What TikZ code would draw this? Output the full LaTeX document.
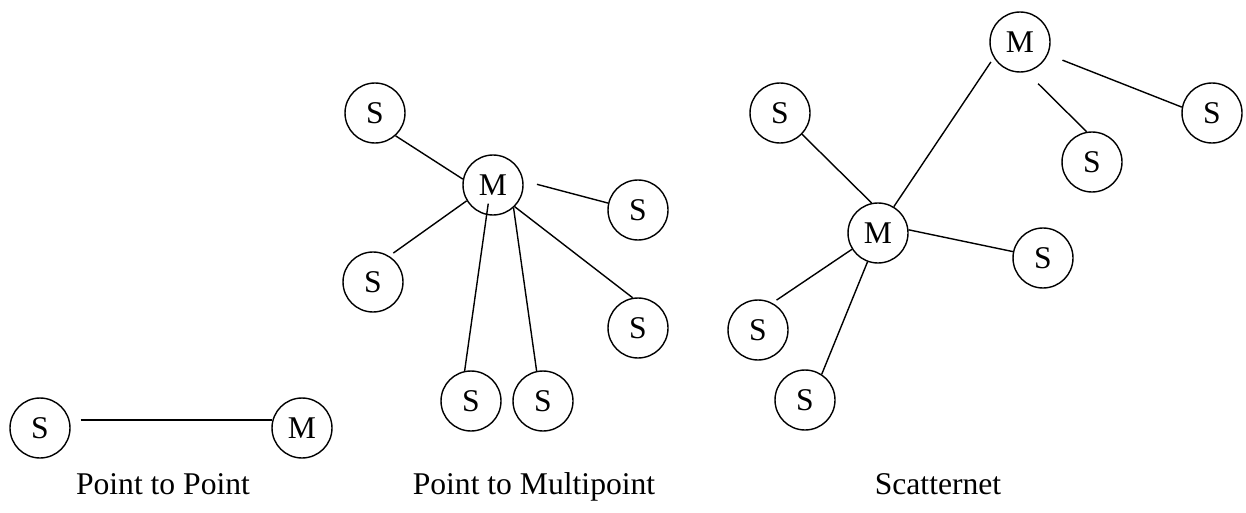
\documentclass[tikz,border=0pt]{standalone}
\usepackage{fontspec}
\setmainfont{Liberation Serif}
\begin{document}
\begin{tikzpicture}[x=0.02cm,y=-0.02cm,
  dev/.style={circle,draw,line width=0.8pt,minimum size=1.2cm,inner sep=0pt,
    font=\fontsize{18}{22}\selectfont},
  link/.style={line width=0.8pt},
  caption/.style={anchor=base,font=\fontsize{18}{22}\selectfont}]
\useasboundingbox (0,0) rectangle (1246,513);

% Point to Point
\node[dev] (ps) at (40,428) {S};
\node[dev] (pm) at (302,428) {M};
\draw[link,shorten <=0.22cm] (ps.15) -- (pm.165);
\node[caption] (pcap) at (163,494) {Point to Point};

% Point to Multipoint
\node[dev] (mm)  at (493,185) {M};
\node[dev] (m1)  at (375,113) {S};
\node[dev] (m2)  at (638,210) {S};
\node[dev] (m3)  at (373,282) {S};
\node[dev] (m4)  at (638,328) {S};
\node[dev] (m5)  at (471,401) {S};
\node[dev] (m6)  at (543,401) {S};
\draw[link] (m1.-48) -- (mm.169);
\draw[link,shorten <=0.28cm] (mm.8) -- (m2.167);
\draw[link,shorten >=0.1cm] (mm.-149) -- (m3.58);
\draw[link] (mm.-45) -- (m4.100);
\draw[link,shorten <=-0.23cm] (mm.-102) -- (m5.102);
\draw[link] (mm.-48) -- (m6.102);
\node[caption] (mcap) at (534,494) {Point to Multipoint};

% Scatternet
\node[dev] (sa) at (878,233) {M};
\node[dev] (sb) at (1020,42) {M};
\node[dev] (s1) at (780,113) {S};
\node[dev] (s2) at (1043,258) {S};
\node[dev] (s3) at (758,330) {S};
\node[dev] (s4) at (805,400) {S};
\node[dev] (s5) at (1092,162) {S};
\node[dev] (s6) at (1212,113) {S};
\draw[link,shorten <=0.1cm] (sb.-149) -- (sa.59);
\draw[link] (s1.-44) -- (sa.102);
\draw[link] (sa.6) -- (s2.168);
\draw[link,shorten >=0.1cm] (sa.-148) -- (s3.62);
\draw[link] (sa.-110) -- (s4.57);
\draw[link,shorten <=0.33cm] (sb.-78) -- (s5.100);
\draw[link,shorten <=0.31cm] (sb.-24) -- (s6.169);
\node[caption] (scap) at (938,494) {Scatternet};
\end{tikzpicture}
\end{document}
